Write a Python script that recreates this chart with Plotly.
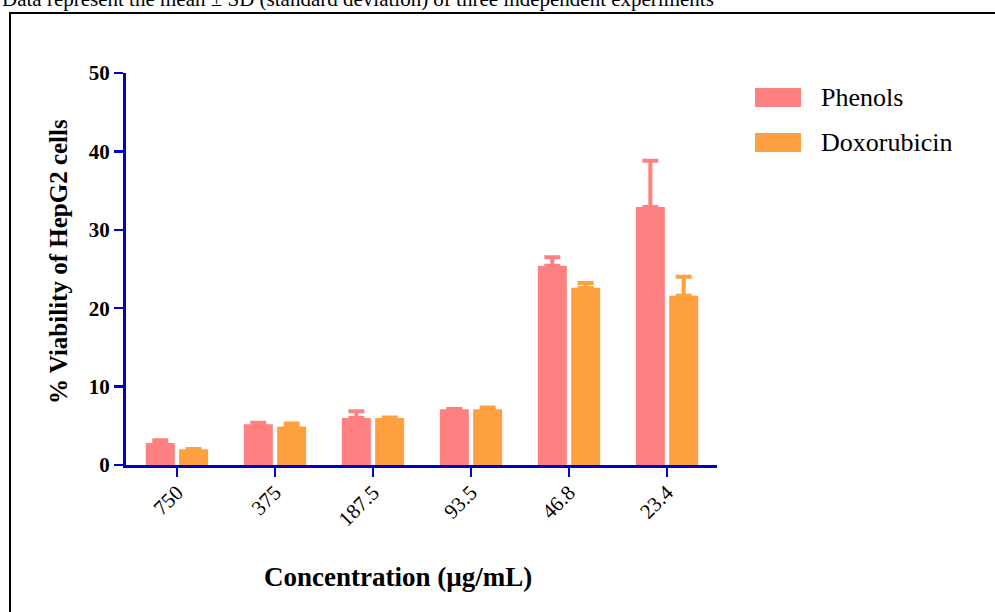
import plotly.graph_objects as go

# ---- data ----
concentrations = ["750", "375", "187.5", "93.5", "46.8", "23.4"]
series_names = ["Phenols", "Doxorubicin"]
phenols_mean = [2.8, 5.2, 6.0, 7.1, 25.4, 32.9]
phenols_sd = [0.35, 0.2, 0.85, 0.05, 1.1, 5.9]
doxo_mean = [2.0, 4.9, 6.0, 7.1, 22.6, 21.6]
doxo_sd = [0.05, 0.4, 0.05, 0.25, 0.6, 2.4]
y_ticks = [0, 10, 20, 30, 40, 50]

colors = ["#FF8080", "#FFA040"]
axis_blue = "#0000C8"
serif = "Liberation Serif, Times New Roman, serif"

W, H = 995, 612
L, R, T, B = 126, 717, 73, 465


def px_x(px):
    return (px - L) / (R - L)


def px_y(py):
    return (B - py) / (B - T)


fig = go.Figure()
for name, mean, sd, col in [
    (series_names[0], phenols_mean, phenols_sd, colors[0]),
    (series_names[1], doxo_mean, doxo_sd, colors[1]),
]:
    fig.add_trace(go.Bar(
        x=concentrations, y=mean, name=name,
        marker=dict(color=col, line=dict(width=0)),
        error_y=dict(type="data", symmetric=False, array=sd,
                     arrayminus=[0] * len(sd), color=col,
                     thickness=4, width=8),
        showlegend=False, hoverinfo="skip",
    ))

fig.update_layout(
    width=W, height=H,
    margin=dict(l=L, r=W - R, t=T, b=H - B, autoexpand=False),
    paper_bgcolor="white", plot_bgcolor="white",
    barmode="group", bargap=0.32, bargroupgap=0.13,
    font=dict(family=serif, color="black"),
)
fig.update_xaxes(
    range=[-0.52, 5.51], showgrid=False, zeroline=False,
    showline=True, linecolor=axis_blue, linewidth=3,
    ticks="outside", ticklen=9, tickwidth=2.5, tickcolor=axis_blue,
    tickangle=-45, tickfont=dict(family=serif, size=21, color="black"),
    ticklabelstandoff=-5,
)
fig.update_yaxes(
    range=[0, 50], tickvals=y_ticks, showgrid=False, zeroline=False,
    showline=True, linecolor=axis_blue, linewidth=3,
    ticks="outside", ticklen=9, tickwidth=2.5, tickcolor=axis_blue,
    tickfont=dict(family=serif, size=21, color="black", weight="bold"),
)

annotations = [
    dict(text="Data represent the mean ± SD (standard deviation) of three independent experiments",
         x=px_x(0), y=px_y(-1), xref="paper", yref="paper",
         xanchor="left", yanchor="middle", showarrow=False,
         font=dict(family=serif, size=21, color="black")),
    dict(text="Concentration (µg/mL)", x=px_x(398), y=px_y(577),
         xref="paper", yref="paper", xanchor="center", yanchor="middle",
         showarrow=False,
         font=dict(family=serif, size=27, color="black", weight="bold")),
    dict(text="% Viability of HepG2 cells", x=px_x(58), y=px_y(262),
         xref="paper", yref="paper", xanchor="center", yanchor="middle",
         textangle=-90, showarrow=False,
         font=dict(family=serif, size=25, color="black", weight="bold")),
]

shapes = [
    dict(type="rect", xref="paper", yref="paper",
         x0=px_x(10), x1=px_x(1010), y0=px_y(13), y1=px_y(640),
         line=dict(color="black", width=2), fillcolor="rgba(0,0,0,0)"),
]

# custom legend
legend_rows = [(88, 107), (133, 152)]
for (top, bot), name, col in zip(legend_rows, series_names, colors):
    shapes.append(dict(type="rect", xref="paper", yref="paper",
                       x0=px_x(755), x1=px_x(801), y0=px_y(bot), y1=px_y(top),
                       fillcolor=col, line=dict(width=0)))
    annotations.append(dict(text=name, x=px_x(819), y=px_y((top + bot) / 2),
                            xref="paper", yref="paper", xanchor="left",
                            yanchor="middle", showarrow=False,
                            font=dict(family=serif, size=26, color="black")))

fig.update_layout(annotations=annotations, shapes=shapes)

fig.write_html(
    "out.html",
    config={"displayModeBar": False, "staticPlot": True},
    post_script="document.body.style.margin='0';document.body.style.overflow='hidden';",
)
